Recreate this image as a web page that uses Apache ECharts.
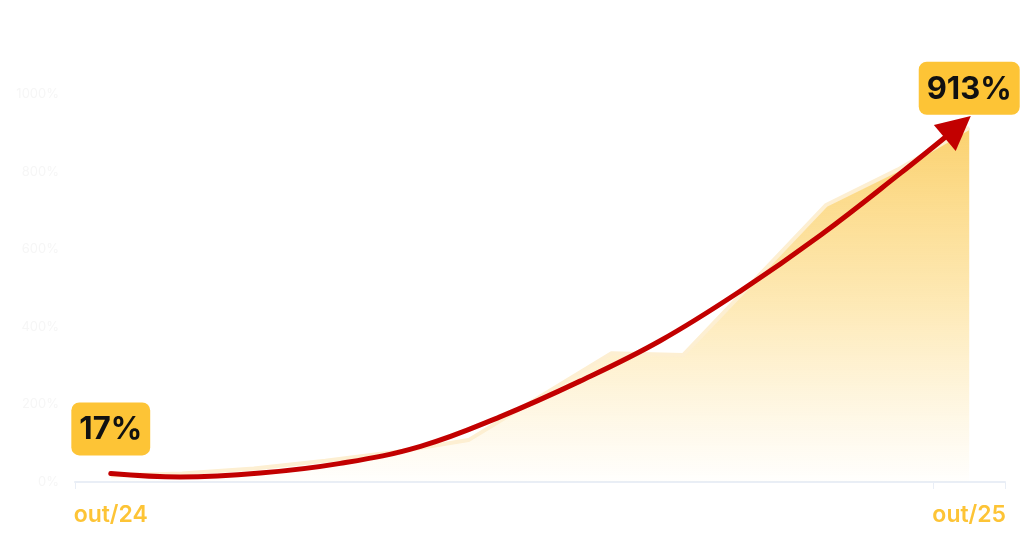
<!DOCTYPE html>
<html>
<head>
<meta charset="utf-8">
<script src="https://cdn.jsdelivr.net/npm/echarts@6/dist/echarts.min.js"></script>
<style>
  html, body { margin: 0; padding: 0; background: #fff; }
  #chart { width: 1024px; height: 541px; }
</style>
</head>
<body>
<div id="chart"></div>
<script>
// meses (out/24 .. out/25)
var months = ["out/24", "nov/24", "dez/24", "jan/25", "fev/25", "mar/25", "abr/25",
              "mai/25", "jun/25", "jul/25", "ago/25", "set/25", "out/25"];
// crescimento acumulado (%)
var growth = [17, 22, 35, 55, 78, 108, 220, 332, 327, 520, 714, 805, 913];
// seta de tendencia (posicao do mes, %)
var trendX = [0, 0.97, 2.09, 3.21, 4.33, 5.44, 6.56, 7.68, 8.80, 9.92, 11.04, 11.84];
var trendY = [22, 13, 23, 48, 92, 168, 260, 364, 492, 636, 796, 915];
var yTicks = [0, 200, 400, 600, 800, 1000];

var chart = echarts.init(document.getElementById("chart"));

var labelBox = {
    show: true,
    position: "top",
    formatter: "{c}%",
    color: "#111",
    fontFamily: "Inter",
    fontSize: 31,
    fontWeight: 700,
    backgroundColor: "#FDC436",
    borderRadius: 8,
    padding: [12, 8, 10, 8]
};

var areaData = growth.map(function (v, i) {
    if (i == 0) {
        return { value: v, label: Object.assign({}, labelBox, { distance: 20 }) };
    }
    if (i == growth.length - 1) {
        return { value: v, label: Object.assign({}, labelBox, { distance: 13 }) };
    }
    return v;
});

var trendData = trendX.map(function (x, i) {
    if (i == trendX.length - 1) {
        return {
            value: [x, trendY[i]],
            symbol: "triangle",
            symbolSize: [34, 34],
            symbolRotate: -50,
            itemStyle: { color: "#C20000" }
        };
    }
    return [x, trendY[i]];
});

var option = {
    animation: false,
    grid: { left: 75, right: 19, top: 94, bottom: 59 },
    xAxis: [{
        type: "category",
        data: months,
        boundaryGap: true,
        axisLine: { lineStyle: { color: "#E9EEF6", width: 2 } },
        axisTick: { show: true, interval: 11, length: 7, lineStyle: { color: "#E9EEF6", width: 1 } },
        axisLabel: {
            interval: 11,
            color: "#FDC436",
            fontFamily: "Inter",
            fontSize: 23,
            fontWeight: 600,
            margin: 22
        }
    }, {
        type: "value",
        min: -0.5,
        max: 12.5,
        show: false
    }],
    yAxis: {
        type: "value",
        min: yTicks[0],
        max: yTicks[yTicks.length - 1],
        interval: 200,
        splitLine: { show: false },
        axisLine: { show: false },
        axisTick: { show: false },
        axisLabel: {
            formatter: function (v) { return v + "%"; },
            color: "#F6F6F6",
            fontFamily: "Inter",
            fontSize: 13,
            margin: 16
        }
    },
    series: [{
        type: "line",
        xAxisIndex: 0,
        data: areaData,
        symbol: "circle",
        symbolSize: 0,
        showSymbol: true,
        lineStyle: { color: "#FDEFD2", width: 4 },
        itemStyle: { color: "#FDC436" },
        areaStyle: {
            color: new echarts.graphic.LinearGradient(0, 0, 0, 1, [
                { offset: 0, color: "rgba(249, 190, 50, 1)" },
                { offset: 0.5, color: "rgba(251, 198, 65, 0.55)" },
                { offset: 1, color: "rgba(253, 210, 100, 0.02)" }
            ])
        },
        z: 1
    }, {
        type: "line",
        xAxisIndex: 1,
        data: trendData,
        smooth: 0.4,
        symbol: "none",
        showSymbol: true,
        lineStyle: { color: "#C20000", width: 5, cap: "round" },
        z: 5
    }]
};

chart.setOption(option);
</script>
</body>
</html>
